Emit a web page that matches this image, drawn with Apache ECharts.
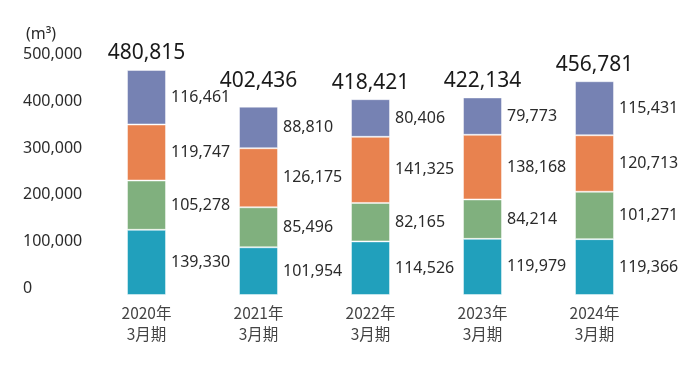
<!DOCTYPE html>
<html>
<head>
<meta charset="utf-8">
<script src="https://cdn.jsdelivr.net/npm/echarts@6/dist/echarts.min.js"></script>
<style>
html,body{margin:0;padding:0;background:#fff;}
#c{width:700px;height:365px;}
</style>
</head>
<body>
<div id="c"></div>
<script>
var categories = ['2020年\n3月期', '2021年\n3月期', '2022年\n3月期', '2023年\n3月期', '2024年\n3月期'];
var seriesA = [139330, 101954, 114526, 119979, 119366];
var seriesB = [105278, 85496, 82165, 84214, 101271];
var seriesC = [119747, 126175, 141325, 138168, 120713];
var seriesD = [116461, 88810, 80406, 79773, 115431];
var totals = [480815, 402436, 418421, 422134, 456781];
var yTicks = [0, 100000, 200000, 300000, 400000, 500000];

var colors = ['#21a0bc', '#80b07e', '#e8824f', '#7682b3'];
var fmt = function (v) { return Number(v).toLocaleString('en-US'); };

function seg(name, data, color) {
  return {
    name: name,
    type: 'bar',
    stack: 'total',
    barWidth: 39,
    data: data,
    itemStyle: { color: color, borderColor: 'rgba(255,255,255,0.45)', borderWidth: 1 },
    label: {
      show: true,
      position: 'right',
      distance: 5,
      color: '#2b2b2b',
      fontFamily: 'Noto Sans',
      fontSize: 16,
      formatter: function (p) { return fmt(p.value); }
    }
  };
}

var chart = echarts.init(document.getElementById('c'), null, { renderer: 'canvas' });
chart.setOption({
  animation: false,
  title: {
    text: '(m³)',
    left: 21,
    top: 21,
    textStyle: { fontFamily: 'Noto Sans', fontSize: 16, fontWeight: 'normal', color: '#2b2b2b' }
  },
  grid: { left: 90.5, right: 49.5, top: 61, bottom: 70 },
  xAxis: {
    type: 'category',
    data: categories,
    axisLine: { show: false },
    axisTick: { show: false },
    axisLabel: {
      margin: 8,
      color: '#444',
      fontFamily: 'Noto Sans CJK JP',
      fontSize: 15.5,
      lineHeight: 21
    }
  },
  yAxis: {
    type: 'value',
    min: yTicks[0],
    max: yTicks[yTicks.length - 1],
    interval: 100000,
    splitLine: { show: false },
    axisLine: { show: false },
    axisTick: { show: false },
    axisLabel: {
      align: 'left',
      verticalAlign: 'bottom',
      lineHeight: 13,
      margin: 67.5,
      color: '#2b2b2b',
      fontFamily: 'Noto Sans',
      fontSize: 16,
      formatter: function (v) { return fmt(v); }
    }
  },
  series: [
    seg('A', seriesA, colors[0]),
    seg('B', seriesB, colors[1]),
    seg('C', seriesC, colors[2]),
    seg('D', seriesD, colors[3]),
    {
      name: 'total',
      type: 'bar',
      stack: 'total',
      barWidth: 39,
      data: totals.map(function (t, i) {
        return i === 1 ? { value: 0, label: { distance: 15 } } : 0;
      }),
      itemStyle: { color: 'transparent', borderWidth: 0 },
      label: {
        show: true,
        position: 'top',
        distance: 6,
        color: '#1a1a1a',
        fontFamily: 'Noto Sans',
        fontSize: 21,
        formatter: function (p) { return fmt(totals[p.dataIndex]); }
      }
    }
  ]
});
</script>
</body>
</html>
